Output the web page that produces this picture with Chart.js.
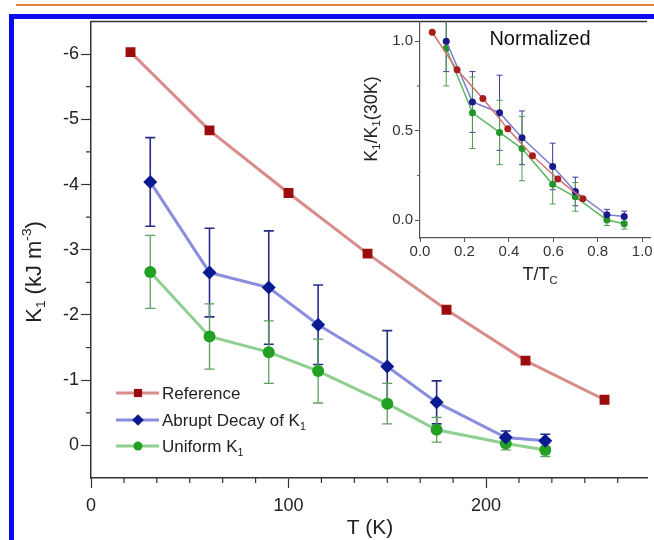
<!DOCTYPE html>
<html><head><meta charset="utf-8">
<script src="https://cdn.jsdelivr.net/npm/chart.js@4.4.1/dist/chart.umd.min.js"></script>
<style>
html,body{margin:0;padding:0;background:#fff;width:654px;height:540px;overflow:hidden;position:relative}
#orange{position:absolute;left:16px;top:4px;width:640px;height:2px;background:#e2823a}
#blue{position:absolute;left:9px;top:14px;width:700px;height:600px;border-left:5px solid #0a0af0;border-top:5px solid #0a0af0;box-sizing:border-box}
canvas{position:absolute}
#main{left:0;top:0}
#inset{left:340px;top:0}
</style></head><body>
<div id="orange"></div><div id="blue"></div>
<canvas id="main" width="654" height="540"></canvas>
<canvas id="inset" width="314" height="300"></canvas>
<script>
const FF = '"Liberation Sans", Arial, Helvetica, sans-serif';

// ---- main chart data ----
const refT = [20, 60, 100, 140, 180, 220, 260];
const refK = [-6.03, -4.83, -3.87, -2.94, -2.08, -1.30, -0.70];
const modT = [30, 60, 90, 115, 150, 175, 210, 230];
const abrK = [-4.04, -2.65, -2.42, -1.85, -1.21, -0.66, -0.12, -0.07];
const abrErr = [0.68, 0.68, 0.87, 0.61, 0.55, 0.33, 0.10, 0.10];
const uniK = [-2.66, -1.67, -1.43, -1.14, -0.64, -0.24, -0.03, 0.07];
const uniErr = [0.56, 0.50, 0.48, 0.49, 0.31, 0.19, 0.10, 0.10];
const xMajor = [0, 100, 200];
const xMinorDiv = 6;
const yMajor = [-6, -5, -4, -3, -2, -1, 0];
const yMinorDiv = 2;
const seriesNames = ['Reference', 'Abrupt Decay of K', 'Uniform K'];
const seriesSubs = ['', '1', '1'];

// ---- inset data ----
const insRefX = [0.055, 0.167, 0.283, 0.395, 0.506, 0.620, 0.733];
const insRefY = [1.05, 0.84, 0.68, 0.51, 0.36, 0.23, 0.12];
const insModX = [0.118, 0.236, 0.358, 0.459, 0.597, 0.699, 0.841, 0.919];
const insAbrY = [1.00, 0.66, 0.60, 0.46, 0.30, 0.16, 0.03, 0.02];
const insAbrErr = [0.17, 0.17, 0.21, 0.15, 0.13, 0.08, 0.03, 0.03];
const insUniY = [0.96, 0.60, 0.49, 0.40, 0.20, 0.13, 0.00, -0.02];
const insUniErr = [0.21, 0.20, 0.18, 0.18, 0.11, 0.08, 0.03, 0.03];
const insXMajor = [0, 0.2, 0.4, 0.6, 0.8, 1.0];
const insYMajor = [0, 0.5, 1.0];
const insYMinor = [0.25, 0.75];

function pts(xs, ys){ return xs.map((x,i)=>({x:x, y:ys[i]})); }

function rich(ctx, parts, x, y, size, align, color){
  ctx.save();
  ctx.fillStyle = color; ctx.textBaseline = 'alphabetic';
  const fonts = parts.map(p => (p.sub||p.sup ? size*0.62 : size) + 'px ' + FF);
  let w = 0;
  parts.forEach((p,i)=>{ ctx.font = fonts[i]; w += ctx.measureText(p.t).width; });
  let cx = align === 'center' ? x - w/2 : (align === 'right' ? x - w : x);
  parts.forEach((p,i)=>{
    ctx.font = fonts[i]; ctx.textAlign = 'left';
    const dy = p.sub ? size*0.22 : (p.sup ? -size*0.45 : 0);
    ctx.fillText(p.t, cx, y + dy);
    cx += ctx.measureText(p.t).width;
  });
  ctx.restore();
}

function marker(ctx, style, x, y, r, color){
  ctx.save(); ctx.fillStyle = color; ctx.beginPath();
  if (style === 'rect'){ const s = r*Math.SQRT1_2; ctx.rect(x-s, y-s, 2*s, 2*s); }
  else if (style === 'rectRot'){ ctx.moveTo(x, y-r); ctx.lineTo(x+r, y); ctx.lineTo(x, y+r); ctx.lineTo(x-r, y); ctx.closePath(); }
  else { ctx.arc(x, y, r, 0, Math.PI*2); }
  ctx.fill(); ctx.restore();
}

const errorPlugin = {
  id: 'errorBars',
  beforeDatasetsDraw(chart){
    const {ctx, chartArea:a} = chart; const x = chart.scales.x, y = chart.scales.y;
    ctx.save(); ctx.beginPath(); ctx.rect(a.left, a.top, a.right-a.left, a.bottom-a.top); ctx.clip();
    chart.data.datasets.forEach(ds=>{
      if (!ds.errors) return;
      ctx.strokeStyle = ds.errColor; ctx.lineWidth = ds.errWidth;
      const cw = ds.capHalf;
      ds.data.forEach((p,i)=>{
        const e = ds.errors[i];
        const px = x.getPixelForValue(p.x);
        const y1 = y.getPixelForValue(p.y - e), y2 = y.getPixelForValue(p.y + e);
        ctx.beginPath();
        ctx.moveTo(px, y1); ctx.lineTo(px, y2);
        ctx.moveTo(px-cw, y1); ctx.lineTo(px+cw, y1);
        ctx.moveTo(px-cw, y2); ctx.lineTo(px+cw, y2);
        ctx.stroke();
      });
    });
    ctx.restore();
  }
};

function drawMinor(ctx, scale, values, len, color, width, horizontal){
  ctx.save(); ctx.strokeStyle = color; ctx.lineWidth = width; ctx.beginPath();
  values.forEach(v=>{
    const p = scale.getPixelForValue(v);
    if (horizontal){ if (p < scale.left-0.5 || p > scale.right+0.5) return; ctx.moveTo(p, scale.top); ctx.lineTo(p, scale.top+len); }
    else { if (p < scale.top-0.5 || p > scale.bottom+0.5) return; ctx.moveTo(scale.right, p); ctx.lineTo(scale.right-len, p); }
  });
  ctx.stroke(); ctx.restore();
}

const mainDecor = {
  id: 'mainDecor',
  afterDraw(chart){
    const {ctx, chartArea:a} = chart; const x = chart.scales.x, y = chart.scales.y;
    // top frame
    ctx.save(); ctx.strokeStyle = '#333'; ctx.lineWidth = 1.5;
    ctx.beginPath(); ctx.moveTo(a.left, a.top); ctx.lineTo(a.right, a.top); ctx.stroke(); ctx.restore();
    // minor ticks
    const xs = (xMajor[1]-xMajor[0])/xMinorDiv, xv = [];
    for (let k=1; xMajor[0]+k*xs <= x.max; k++){ if (k % xMinorDiv) xv.push(xMajor[0]+k*xs); }
    drawMinor(ctx, x, xv, 5, '#333', 1.2, true);
    const ys = (yMajor[1]-yMajor[0])/yMinorDiv, yv = [];
    for (let k=1; k < (yMajor.length-1)*yMinorDiv; k++){ if (k % yMinorDiv) yv.push(yMajor[0]+k*ys); }
    drawMinor(ctx, y, yv, 5, '#333', 1.2, false);
    // axis titles
    rich(ctx, [{t:'T (K)'}], (a.left+a.right)/2 + 1, 534, 21, 'center', '#222');
    ctx.save(); ctx.translate(40.5, 272); ctx.rotate(-Math.PI/2);
    rich(ctx, [{t:'K'},{t:'1',sub:true},{t:' (kJ m'},{t:'-3',sup:true},{t:')'}], 0, 0, 22, 'center', '#222');
    ctx.restore();
    // legend
    const rows = [393, 420, 446];
    chart.data.datasets.forEach((ds,i)=>{
      const ry = rows[i];
      ctx.save(); ctx.strokeStyle = ds.borderColor; ctx.lineWidth = 3;
      ctx.beginPath(); ctx.moveTo(116, ry); ctx.lineTo(159, ry); ctx.stroke(); ctx.restore();
      marker(ctx, ds.pointStyle, 138, ry, ds.pointStyle === 'circle' ? 4.5 : 5.8, ds.pointBackgroundColor);
      const parts = [{t:seriesNames[i]}];
      if (seriesSubs[i]) parts.push({t:seriesSubs[i], sub:true});
      rich(ctx, parts, 162, ry + 6, 17, 'left', '#222');
    });
  }
};

new Chart(document.getElementById('main'), {
  type: 'line',
  data: { datasets: [
    { label: seriesNames[0], data: pts(refT, refK), borderColor: '#d98c8c', borderWidth: 3,
      pointStyle: 'rect', pointRadius: 7, pointBackgroundColor: '#9c0c0c', pointBorderColor: '#9c0c0c', pointBorderWidth: 0 },
    { label: seriesNames[1], data: pts(modT, abrK), borderColor: '#8a8ede', borderWidth: 3,
      pointStyle: 'rectRot', pointRadius: 7, pointBackgroundColor: '#0a1a90', pointBorderColor: '#0a1a90', pointBorderWidth: 0,
      errors: abrErr, errColor: '#262b8a', errWidth: 1.6, capHalf: 5 },
    { label: seriesNames[2], data: pts(modT, uniK), borderColor: '#8fcf8f', borderWidth: 3,
      pointStyle: 'circle', pointRadius: 6, pointBackgroundColor: '#22a022', pointBorderColor: '#22a022', pointBorderWidth: 0,
      errors: uniErr, errColor: '#5f9f5f', errWidth: 1.3, capHalf: 5 }
  ]},
  options: {
    responsive: false, animation: false, events: [],
    layout: { padding: { top: 21.5, left: 0, right: 0, bottom: 0 } },
    plugins: { legend: { display: false }, tooltip: { enabled: false } },
    elements: { line: { tension: 0 } },
    scales: {
      x: { type: 'linear', min: 0, max: 281.5,
        afterBuildTicks: s => { s.ticks = xMajor.map(v => ({value: v})); },
        afterFit: s => { s.height = 62; },
        ticks: { font: { family: FF, size: 18 }, color: '#222', padding: 7, maxRotation: 0, autoSkip: false, callback: v => String(v) },
        grid: { drawOnChartArea: false, drawTicks: true, tickLength: 10, tickColor: '#333', tickWidth: 1.2 },
        border: { display: true, color: '#333', width: 1.5 } },
      y: { type: 'linear', reverse: true, min: -6.5, max: 0.5,
        afterBuildTicks: s => { s.ticks = yMajor.map(v => ({value: v})); },
        afterFit: s => { s.width = 91; },
        ticks: { font: { family: FF, size: 18 }, color: '#222', padding: 2, autoSkip: false, callback: v => String(v) },
        grid: { drawOnChartArea: false, drawTicks: true, tickLength: 10, tickColor: '#333', tickWidth: 1.2 },
        border: { display: true, color: '#333', width: 1.5 } }
    }
  },
  plugins: [errorPlugin, mainDecor]
});

const insetDecor = {
  id: 'insetDecor',
  afterDraw(chart){
    const {ctx} = chart; const y = chart.scales.y;
    drawMinor(ctx, y, insYMinor, 3, '#555', 1, false);
    rich(ctx, [{t:'Normalized'}], 200, 45, 20, 'center', '#111');
    rich(ctx, [{t:'T/T'},{t:'C',sub:true}], 200, 280, 18, 'center', '#222');
    ctx.save(); ctx.translate(36.5, 119); ctx.rotate(-Math.PI/2);
    rich(ctx, [{t:'K'},{t:'1',sub:true},{t:'/K'},{t:'1',sub:true},{t:'(30K)'}], 0, 0, 18, 'center', '#222');
    ctx.restore();
  }
};

new Chart(document.getElementById('inset'), {
  type: 'line',
  data: { datasets: [
    { data: pts(insRefX, insRefY), borderColor: '#d27272', borderWidth: 1.5,
      pointStyle: 'circle', pointRadius: 3.5, pointBackgroundColor: '#a81c1c', pointBorderColor: '#a81c1c', pointBorderWidth: 0 },
    { data: pts(insModX, insAbrY), borderColor: '#7b7bcf', borderWidth: 1.5,
      pointStyle: 'circle', pointRadius: 3.5, pointBackgroundColor: '#1a1a8c', pointBorderColor: '#1a1a8c', pointBorderWidth: 0,
      errors: insAbrErr, errColor: '#3a3a9a', errWidth: 1, capHalf: 3 },
    { data: pts(insModX, insUniY), borderColor: '#5fb55f', borderWidth: 1.5,
      pointStyle: 'circle', pointRadius: 3.5, pointBackgroundColor: '#23942b', pointBorderColor: '#23942b', pointBorderWidth: 0,
      errors: insUniErr, errColor: '#4c9c4c', errWidth: 1, capHalf: 3 }
  ]},
  options: {
    responsive: false, animation: false, events: [],
    layout: { padding: { top: 21.5, left: 0, right: 0, bottom: 0 } },
    plugins: { legend: { display: false }, tooltip: { enabled: false } },
    elements: { line: { tension: 0 } },
    scales: {
      x: { type: 'linear', min: 0, max: 1.035,
        afterBuildTicks: s => { s.ticks = insXMajor.map(v => ({value: v})); },
        afterFit: s => { s.height = 62; },
        ticks: { font: { family: FF, size: 15 }, color: '#333', padding: 1, maxRotation: 0, autoSkip: false, callback: v => v.toFixed(1) },
        grid: { drawOnChartArea: false, drawTicks: true, tickLength: 4, tickColor: '#555', tickWidth: 1 },
        border: { display: true, color: '#555', width: 1.2 } },
      y: { type: 'linear', min: -0.1, max: 1.11,
        afterBuildTicks: s => { s.ticks = insYMajor.map(v => ({value: v})); },
        afterFit: s => { s.width = 80; },
        ticks: { font: { family: FF, size: 15 }, color: '#333', padding: 2, autoSkip: false, callback: v => v.toFixed(1) },
        grid: { drawOnChartArea: false, drawTicks: true, tickLength: 5, tickColor: '#555', tickWidth: 1 },
        border: { display: true, color: '#555', width: 1.2 } }
    }
  },
  plugins: [errorPlugin, insetDecor]
});
</script>
</body></html>
